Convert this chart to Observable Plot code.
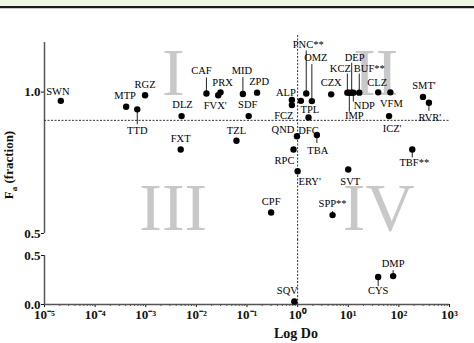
<!DOCTYPE html>
<html><head><meta charset="utf-8">
<script src="https://cdn.jsdelivr.net/npm/d3@7"></script>
<script src="https://cdn.jsdelivr.net/npm/@observablehq/plot@0.6"></script>
<style>
html,body{margin:0;padding:0;background:#fff}
body{width:474px;height:343px;overflow:hidden;position:relative;font-family:"Liberation Serif",serif}
#band{position:absolute;left:0;top:0;width:474px;height:6px;background:#eef6e6;z-index:3}
#bandline{position:absolute;left:0;top:6px;width:474px;height:2px;background:#1a1a1a;z-index:3}
#bandline2{position:absolute;left:0;top:8px;width:474px;height:1px;background:#c8c8c8;z-index:3}
#upper{position:absolute;left:0;top:0}
#lower{position:absolute;left:0;top:240px}
#ylab{position:absolute;left:10px;top:165px;transform:translate(-50%,-50%) rotate(-90deg);white-space:nowrap;font:bold 13px "Liberation Serif",serif;color:#111}
#ylab sub{font-size:9px}
#xlab{position:absolute;left:296px;top:334px;transform:translate(-50%,-50%);white-space:nowrap;font:bold 14px "Liberation Serif",serif;color:#111}
</style></head>
<body>
<div id="upper"></div>
<div id="lower"></div>
<div id="band"></div><div id="bandline"></div><div id="bandline2"></div>
<div id="ylab">F<sub>a</sub> (fraction)</div>
<div id="xlab">Log Do</div>
<script>
// ---- data ----
const names = ["SWN","MTP","TTD","RGZ","DLZ","FXT","CAF","PRX","FVX'","MID","ZPD","SDF","TZL","ALP","FCZ","QND","TPL","PNC**","OMZ","DFC","RPC","ERY'","TBA","CPF","SPP**","SVT","TBF**","CZX","KCZ","IMP","DEP","NDP","BUF**","CLZ","VFM","ICZ'","SMT'","RVR'","SQV","CYS","DMP"];
const doValues = [2.1e-5,4.1e-4,6.8e-4,9.7e-4,5.1e-3,4.9e-3,0.0158,0.030,0.027,0.083,0.158,0.108,0.062,0.77,0.77,0.97,1.16,1.48,1.91,1.64,0.83,1.0,2.4,0.30,4.9,10,184,4.6,9.6,10.5,11.7,12.6,16.5,39,68,64,299,392,0.86,39,77];
const faValues = [0.969,0.948,0.939,0.989,0.915,0.797,0.995,0.999,0.989,0.993,0.998,0.915,0.828,0.972,0.954,0.844,0.969,0.995,0.968,0.910,0.797,0.720,0.848,0.574,0.565,0.726,0.797,0.992,0.998,0.998,0.998,0.998,0.998,0.999,0.999,0.915,0.983,0.962,0.03,0.28,0.29];
const xTicks = [1e-5,1e-4,1e-3,1e-2,1e-1,1,10,100,1000];
const upperTicks = [0.5,1.0];
const lowerTicks = [0.0,0.5];
const quadLabels = ["I","II","III","IV"];
const quadX = [3.5e-3,35,3.5e-3,40];
const quadY = [0.989,0.989,0.512,0.512];
const thresholdDo = 1;
const thresholdFa = 0.9;

// ---- label placement (px offsets: dx, dy, leader length) ----
const labelPlacement = {
  "SWN":[-3,-9,0],"MTP":[-1,-11,0],"TTD":[0,21,15],"RGZ":[0,-11,0],"DLZ":[1,-11,0],"FXT":[0,-11,0],
  "CAF":[-5,-23,-16],"PRX":[2,-10,0],"FVX'":[-3,10,0],"MID":[-1,-23,-17],"ZPD":[2,-11,0],"SDF":[-1,-11,0],
  "TZL":[0,-10,0],"ALP":[-6,-7,0],"FCZ":[-8,11,0],"QND":[-14,-7,0],"TPL":[9,9,0],"PNC**":[2,-49,-43],
  "OMZ":[4,-43,-37],"DFC":[0,13,0],"RPC":[-9,11,0],"ERY'":[12,10,0],"TBA":[1,16,8],"CPF":[0,-11,0],
  "SPP**":[0,-11,-4],"SVT":[2,12,0],"TBF**":[2,13,8],"CZX":[0,-12,0],"KCZ":[-7,-24,-19],"IMP":[5,23,19],
  "DEP":[3,-35,-30],"NDP":[11,13,9],"BUF**":[10,-24,-19],"CLZ":[-1,-10,0],"VFM":[1,11,0],"ICZ'":[3,13,0],
  "SMT'":[1,-11,0],"RVR'":[1,15,8],"SQV":[-7,-11,0],"CYS":[0,14,9],"DMP":[0,-12,-6]
};

const supMap = {"-":"\u207B","0":"\u2070","1":"\u00B9","2":"\u00B2","3":"\u00B3","4":"\u2074","5":"\u2075"};
const fmtPow = d => "10" + String(Math.round(Math.log10(d))).split("").map(c => supMap[c]).join("");

const W = 474, ML = 44, MR = 25;
const axisColor = "#555";
const idx = names.map((_, i) => i);
const upperIdx = idx.filter(i => faValues[i] >= 0.5);
const lowerIdx = idx.filter(i => faValues[i] < 0.5);

function pointMarks(list, k) {
  const marks = [];
  const withLeader = list.filter(i => labelPlacement[names[i]][2] !== 0);
  marks.push(Plot.link(withLeader, {
    x1: i => doValues[i], x2: i => doValues[i],
    y1: i => faValues[i], y2: i => faValues[i] - labelPlacement[names[i]][2] / k,
    stroke: "#222", strokeWidth: 1
  }));
  marks.push(Plot.dot(list, {x: i => doValues[i], y: i => faValues[i], r: 3.2, fill: "#000", stroke: "none"}));
  for (const i of list) {
    const [dx, dy] = labelPlacement[names[i]];
    marks.push(Plot.text([i], {
      x: i => doValues[i], y: i => faValues[i], text: i => names[i],
      dx, dy, fontSize: 10.5, fontWeight: "normal", fill: "#000", fontFamily: "Liberation Serif"
    }));
  }
  return marks;
}

// ---- upper panel ----
const UH = 240, UMT = 35, UMB = 7;
const ku = (UH - UMT - UMB) / (1.2 - 0.5);
const upper = Plot.plot({
  width: W, height: UH, marginLeft: ML, marginRight: MR, marginTop: UMT, marginBottom: UMB,
  style: {fontFamily: "Liberation Serif", fontSize: "13px", fontWeight: "bold", color: "#111", background: "transparent", overflow: "visible"},
  x: {type: "log", domain: [1e-5, 1e3], axis: null},
  y: {domain: [0.5, 1.2], ticks: upperTicks, tickFormat: d3.format(".1f"), tickSize: 3, tickPadding: 1, label: null},
  marks: [
    Plot.text(quadLabels, {x: (d, i) => quadX[i], y: (d, i) => quadY[i], text: d => d, fontSize: 68, fontWeight: "normal", fill: "#c8c8c8", lineAnchor: "bottom", fontFamily: "Liberation Serif"}),
    Plot.ruleX([1e-5], {y1: 0.5, y2: 1.175, stroke: axisColor, strokeWidth: 1.5}),
    Plot.ruleY([thresholdFa], {x1: 1e-5, x2: 1e3, stroke: "#333", strokeWidth: 1, strokeDasharray: "2,1.5"}),
    Plot.ruleX([thresholdDo], {y1: 0.5 - UMB / ku, y2: 1.2, stroke: "#333", strokeWidth: 1, strokeDasharray: "2,1.5"}),
    ...pointMarks(upperIdx, ku)
  ]
});
document.getElementById("upper").append(upper);

// ---- lower panel ----
const LH = 103, LMT = 15, LMB = 39;
const kl = (LH - LMT - LMB) / 0.5;
const minor = [];
for (let e = -5; e < 3; e++) for (let m = 2; m <= 9; m++) minor.push(m * Math.pow(10, e));
const lower = Plot.plot({
  width: W, height: LH, marginLeft: ML, marginRight: MR, marginTop: LMT, marginBottom: LMB,
  style: {fontFamily: "Liberation Serif", fontSize: "13px", fontWeight: "bold", color: "#111", background: "transparent", overflow: "visible"},
  x: {type: "log", domain: [1e-5, 1e3], ticks: xTicks, tickFormat: fmtPow, tickSize: 3, tickPadding: 2, label: null},
  y: {domain: [0, 0.5], ticks: lowerTicks, tickFormat: d3.format(".1f"), tickSize: 3, tickPadding: 1, label: null},
  marks: [
    Plot.ruleX([1e-5], {y1: 0, y2: 0.5, stroke: axisColor, strokeWidth: 1.5}),
    Plot.ruleY([0], {x1: 1e-5, x2: 1e3, stroke: axisColor, strokeWidth: 1.5}),
    Plot.ruleX(minor, {x: d => d, y1: 0, y2: -2 / kl, stroke: axisColor, strokeWidth: 1}),
    Plot.ruleX([thresholdDo], {y1: 0, y2: 0.5 + LMT / kl, stroke: "#333", strokeWidth: 1, strokeDasharray: "2,1.5"}),
    ...pointMarks(lowerIdx, kl)
  ]
});
document.getElementById("lower").append(lower);
</script>
</body></html>
